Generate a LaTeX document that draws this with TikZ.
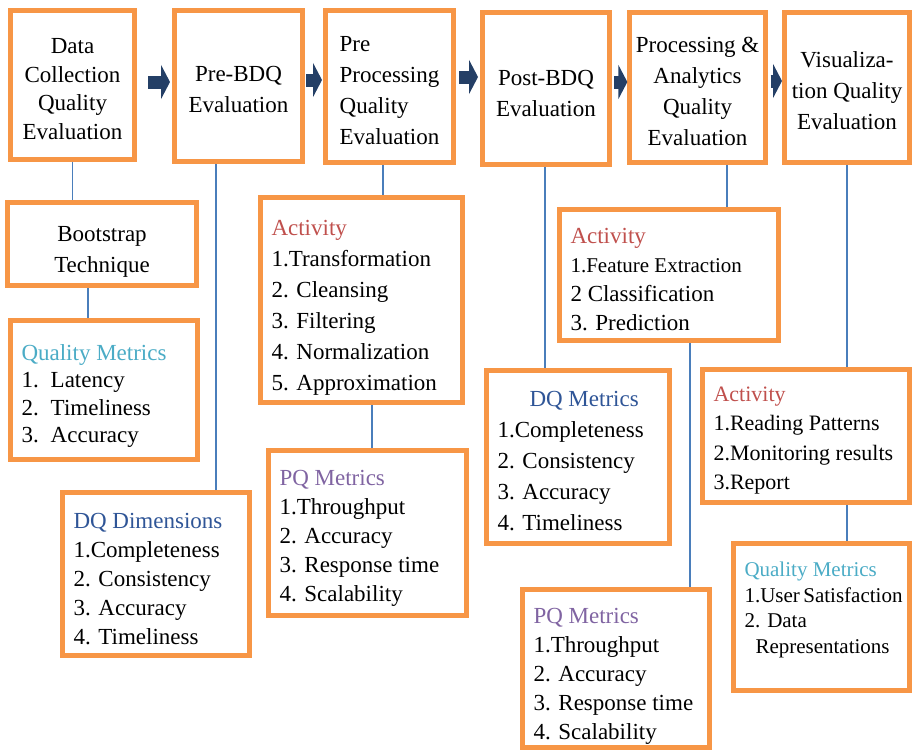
\documentclass[tikz,border=0pt]{standalone}
\usepackage{fontspec}
\setmainfont{Liberation Serif}
\usepackage{xcolor}
\usetikzlibrary{arrows.meta}
\definecolor{boxorange}{HTML}{F79646}
\definecolor{linkblue}{HTML}{4A7EBB}
\definecolor{flownavy}{HTML}{243F66}
\definecolor{actred}{HTML}{C0504D}
\definecolor{qmcyan}{HTML}{4BACC6}
\definecolor{dqblue}{HTML}{2F5597}
\definecolor{pqpurple}{HTML}{8064A2}
\hyphenpenalty=10000
\exhyphenpenalty=10000
\newcommand{\firstgap}[1]{\rule{0pt}{#1}}
\newcommand{\lastgap}[1]{\rule[-#1]{0pt}{#1}}

\tikzset{
  stagebox/.style={draw=boxorange, line width=5pt, fill=white, align=flush center,
    inner xsep=6pt, font=\fontsize{23}{31}\selectfont},
  listbox/.style={draw=boxorange, line width=5pt, fill=white, align=flush left,
    inner xsep=11pt, font=\fontsize{23}{30}\selectfont},
  link/.style={draw=linkblue, line width=1.5pt},
  flow/.style={draw=flownavy, line width=13pt, -{Triangle[width=34pt,length=9pt]}},
}

\begin{document}
\begin{tikzpicture}[x=1pt, y=-1pt]
  \useasboundingbox (0,0) rectangle (915,750);

  % stages along the top
  \node[stagebox, minimum width=124pt, minimum height=149pt,
        font=\fontsize{23}{28.5}\selectfont] (dc) at (72.5,85) {\firstgap{23pt}Data\\Collection\\Quality\\Evaluation};
  \node[stagebox, minimum width=128pt, minimum height=151pt] (pre) at (238.5,86) {\firstgap{23pt}Pre-BDQ\\Evaluation};
  \node[stagebox, minimum width=128pt, minimum height=152pt, align=flush left] (pp) at (389.5,86.5) {\firstgap{23pt}Pre\\Processing\\Quality\\Evaluation};
  \node[stagebox, minimum width=127pt, minimum height=152pt] (post) at (546,88.5) {\firstgap{25pt}Post-BDQ\\Evaluation};
  \node[stagebox, minimum width=128pt, minimum height=150pt] (pa) at (697.5,87.5) {\firstgap{23pt}Processing \&\\Analytics\\Quality\\Evaluation};
  \node[stagebox, minimum width=125pt, minimum height=150pt] (vis) at (847,87.5) {\firstgap{23pt}Visualiza-\\tion Quality\\Evaluation};

  % boxes below each stage
  \node[stagebox, minimum width=189pt, minimum height=83pt] (boot) at (102,244) {\firstgap{30pt}Bootstrap\\Technique};
  \node[listbox, text width=165pt, minimum height=139pt, font=\fontsize{23}{27.5}\selectfont] (qm1) at (104,390)
    {\firstgap{28pt}\textcolor{qmcyan}{Quality Metrics}\\1.\hspace{12pt}Latency\\2.\hspace{12pt}Timeliness\\3.\hspace{12pt}Accuracy};
  \node[listbox, text width=165pt, minimum height=163pt, font=\fontsize{23}{29}\selectfont] (dqdim) at (156,574)
    {\firstgap{26pt}\textcolor{dqblue}{DQ Dimensions}\\1.Completeness\\2. Consistency\\3. Accuracy\\4. Timeliness};
  \node[listbox, text width=180pt, minimum height=205pt, font=\fontsize{23}{31}\selectfont] (act1) at (361.5,300)
    {\firstgap{30pt}\textcolor{actred}{Activity}\\1.Transformation\\2. Cleansing\\3. Filtering\\4. Normalization\\5. Approximation};
  \node[listbox, text width=176pt, minimum height=165pt, font=\fontsize{23}{29}\selectfont] (pq1) at (367.5,533)
    {\firstgap{25pt}\textcolor{pqpurple}{PQ Metrics}\\1.Throughput\\2. Accuracy\\3. Response~time\\4. Scalability};
  \node[listbox, text width=161pt, minimum height=173pt, font=\fontsize{23}{31}\selectfont] (dqm) at (578,457)
    {\firstgap{23pt}\hspace*{32pt}\textcolor{dqblue}{DQ Metrics}\\1.Completeness\\2. Consistency\\3. Accuracy\\4. Timeliness};
  \node[listbox, text width=197pt, minimum height=131pt, font=\fontsize{23}{29}\selectfont] (act2) at (669,275)
    {\firstgap{24pt}\textcolor{actred}{Activity}\\{\fontsize{21}{29}\selectfont 1.Feature~Extraction}\\2 Classification\\3. Prediction};
  \node[listbox, text width=165pt, minimum height=154pt, font=\fontsize{23}{29}\selectfont] (pq2) at (616,668.5)
    {\firstgap{31pt}\textcolor{pqpurple}{PQ Metrics}\\1.Throughput\\2. Accuracy\\3. Response~time\\4. Scalability};
  \node[listbox, text width=185pt, minimum height=133pt, font=\fontsize{22}{29.5}\selectfont] (act3) at (806,436)
    {\firstgap{24pt}\textcolor{actred}{Activity}\\1.Reading~Patterns\\2.Monitoring~results\\3.Report};
  \node[listbox, text width=154pt, minimum height=147pt, font=\fontsize{21}{25.5}\selectfont] (qm2) at (821.5,617)
    {\textcolor{qmcyan}{Quality~Metrics}\\1.User~Satisfaction\\2. Data\\\hspace*{11pt}Representations\lastgap{19pt}};

  % flow between the stages
  \draw[flow, shorten <=11pt, shorten >=2pt] ([yshift=3pt]dc.east) -- ([yshift=3pt]dc.east -| pre.west);
  \draw[flow, shorten <=1pt, shorten >=1pt] ([yshift=6pt]pre.east) -- ([yshift=6pt]pre.east -| pp.west);
  \draw[flow, shorten <=3pt, shorten >=2pt] ([yshift=9.5pt]pp.east) -- ([yshift=9.5pt]pp.east -| post.west);
  \draw[flow, shorten <=2pt, shorten >=0pt] ([yshift=6.5pt]post.east) -- ([yshift=6.5pt]post.east -| pa.west);
  \draw[flow, shorten <=3pt, shorten >=0pt] ([yshift=6.5pt]pa.east) -- ([yshift=6.5pt]pa.east -| vis.west);

  % links down to the details
  \draw[link] (dc.south) -- (dc.south |- boot.north);
  \draw[link] ([xshift=-14pt]boot.south) -- ([xshift=-14pt]boot.south |- qm1.north);
  \draw[link] ([xshift=-22.5pt]pre.south) -- ([xshift=-22.5pt]pre.south |- dqdim.north);
  \draw[link] ([xshift=-6.5pt]pp.south) -- ([xshift=-6.5pt]pp.south |- act1.north);
  \draw[link] ([xshift=10.5pt]act1.south) -- ([xshift=10.5pt]act1.south |- pq1.north);
  \draw[link] ([xshift=-1pt]post.south) -- ([xshift=-1pt]post.south |- dqm.north);
  \draw[link] ([xshift=29.5pt]pa.south) -- ([xshift=29.5pt]pa.south |- act2.north);
  \draw[link] ([xshift=21pt]act2.south) -- ([xshift=21pt]act2.south |- pq2.north);
  \draw[link] (vis.south) -- (vis.south |- act3.north);
  \draw[link] ([xshift=41pt]act3.south) -- ([xshift=41pt]act3.south |- qm2.north);
\end{tikzpicture}
\end{document}
